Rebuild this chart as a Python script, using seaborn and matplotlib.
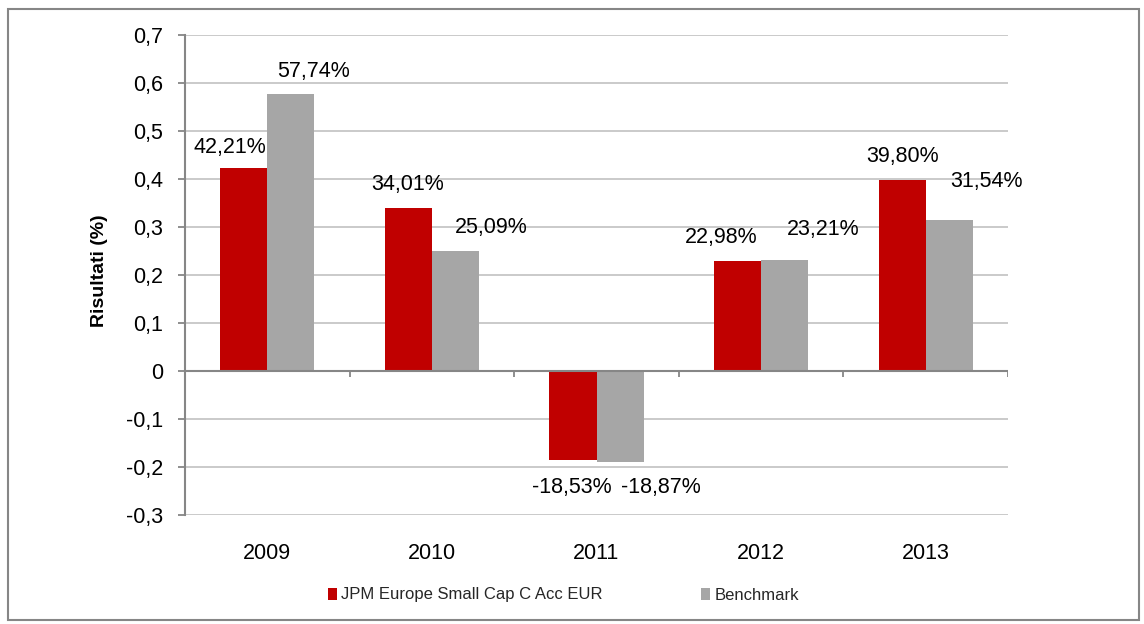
import matplotlib
matplotlib.use("Agg")
import matplotlib.pyplot as plt
from matplotlib.patches import Patch, Rectangle
from matplotlib.ticker import FuncFormatter, MultipleLocator
import pandas as pd
import seaborn as sns

# Annual returns (%)
years = ["2009", "2010", "2011", "2012", "2013"]
fund_name = "JPM Europe Small Cap C Acc EUR"
bench_name = "Benchmark"
fund_returns = [42.21, 34.01, -18.53, 22.98, 39.80]
bench_returns = [57.74, 25.09, -18.87, 23.21, 31.54]

# Label nudges in pixels (dx, gap from bar end) to keep value labels apart
fund_label_dx = [-14, -1, -1, -16, 0]
fund_label_gap = [21, 23, 28, 23, 23]
bench_label_dx = [23, 36, 41, 39, 37]
bench_label_gap = [22, 23, 26, 30, 38]

RED = "#C00000"
GREY = "#A6A6A6"
AXIS = "#868686"
GRID = "#C6C6C6"

df = pd.DataFrame({
    "Anno": years * 2,
    "Serie": [fund_name] * len(years) + [bench_name] * len(years),
    "Risultato": [v / 100 for v in fund_returns] + [v / 100 for v in bench_returns],
})

sns.set_theme(style="white")
plt.rcParams["font.family"] = ["Liberation Sans", "DejaVu Sans"]

DPI = 100
fig = plt.figure(figsize=(11.44, 6.24), dpi=DPI)
ax = fig.add_axes([185 / 1144, 1 - 515 / 624, 823 / 1144, 480 / 624])

sns.barplot(data=df, x="Anno", y="Risultato", hue="Serie", order=years,
            hue_order=[fund_name, bench_name], palette=[RED, GREY],
            width=0.572, saturation=1, ax=ax, legend=False,
            edgecolor="none", linewidth=0)

ax.set_xlim(-0.5, len(years) - 0.5)
ax.set_ylim(-0.3, 0.7)
ax.yaxis.set_major_locator(MultipleLocator(0.1))


def comma_fmt(v, pos=None):
    if abs(v) < 1e-9:
        return "0"
    return f"{v:.1f}".replace(".", ",")


ax.yaxis.set_major_formatter(FuncFormatter(comma_fmt))

# Grid and axis lines
ax.set_axisbelow(True)
ax.yaxis.grid(True, color=GRID, linewidth=1.3)
ax.xaxis.grid(False)
for side in ["top", "right", "bottom"]:
    ax.spines[side].set_visible(False)
ax.spines["left"].set_color(AXIS)
ax.spines["left"].set_linewidth(1.5)
ax.axhline(0, color=AXIS, linewidth=1.5, zorder=3)

# Category boundary ticks hanging from the zero line
bounds = [i - 0.5 for i in range(len(years) + 1)]
ax.vlines(bounds, 0, -0.0125, color=AXIS, linewidth=1.3, zorder=3)

ax.tick_params(axis="y", length=5, width=1.3, color=AXIS, pad=11,
               labelsize=15.5, labelcolor="black", left=True)
ax.tick_params(axis="x", length=0, pad=20, labelsize=15.5, labelcolor="black")
ax.set_xlabel("")
ax.set_ylabel("Risultati (%)", fontsize=14, fontweight="bold", color="black")
ax.yaxis.set_label_coords(-0.094, 0.508)

# Value labels
px2pt = 72 / DPI
containers = ax.containers
for cont, vals, dxs, gaps in [
    (containers[0], fund_returns, fund_label_dx, fund_label_gap),
    (containers[1], bench_returns, bench_label_dx, bench_label_gap),
]:
    for bar, v, dx, gap in zip(cont.patches, vals, dxs, gaps):
        xc = bar.get_x() + bar.get_width() / 2
        h = bar.get_height()
        sign = 1 if v >= 0 else -1
        ax.annotate(f"{v:.2f}%".replace(".", ","), xy=(xc, h),
                    xytext=(dx * px2pt, sign * gap * px2pt),
                    textcoords="offset points", ha="center", va="center",
                    fontsize=15.5, color="black", zorder=5)

# Legend below the plot
handles = [Patch(facecolor=RED, edgecolor="none"),
           Patch(facecolor=GREY, edgecolor="none")]
fig.legend(handles, [fund_name, bench_name], loc="center",
           bbox_to_anchor=(563.5 / 1144, 1 - 595 / 624), ncol=2,
           frameon=False, fontsize=12, handlelength=0.55, handleheight=0.75,
           handletextpad=0.25, columnspacing=5.9, borderaxespad=0)

# Outer chart frame
fig.patches.append(Rectangle((8 / 1144, 4 / 624), 1131 / 1144, 611 / 624,
                             transform=fig.transFigure, fill=False,
                             edgecolor=AXIS, linewidth=1.5))

fig.savefig("out.png", dpi=DPI, facecolor="white")
